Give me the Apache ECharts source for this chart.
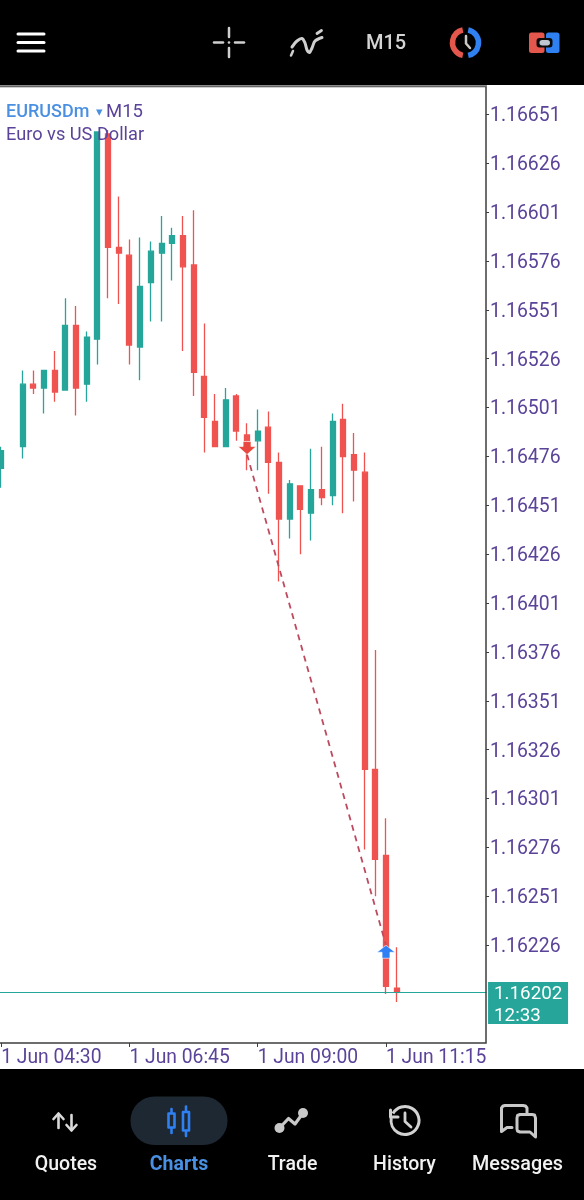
<!DOCTYPE html>
<html>
<head>
<meta charset="utf-8">
<style>html,body{margin:0;padding:0;background:#fff}#chart{width:584px;height:1200px}</style>
<script src="https://cdn.jsdelivr.net/npm/echarts@6/dist/echarts.min.js"></script>
</head>
<body>
<div id="chart"></div>
<script>
// EURUSDm M15 candles: [open, close, low, high]; null marks a bar with no print
const candles = [
  [1.16470,1.16479,1.16460,1.16481], null,
  [1.16481,1.16513,1.16475,1.16520], [1.16513,1.16511,1.16508,1.16520],
  [1.16511,1.16520,1.16498,1.16520], [1.16520,1.16509,1.16504,1.16530],
  [1.16510,1.16543,1.16510,1.16557], [1.16543,1.16511,1.16497,1.16553],
  [1.16513,1.16537,1.16504,1.16540], [1.16536,1.16642,1.16523,1.16642],
  [1.16641,1.16583,1.16557,1.16643], [1.16583,1.16580,1.16554,1.16609],
  [1.16579,1.16533,1.16523,1.16587], [1.16532,1.16563,1.16515,1.16588],
  [1.16565,1.16581,1.16545,1.16586], [1.16580,1.16585,1.16545,1.16599],
  [1.16585,1.16589,1.16566,1.16593], [1.16589,1.16573,1.16530,1.16599],
  [1.16574,1.16519,1.16507,1.16602], [1.16517,1.16496,1.16478,1.16544],
  [1.16494,1.16481,1.16481,1.16508], [1.16481,1.16505,1.16481,1.16511],
  [1.16507,1.16489,1.16484,1.16508], [1.16487,1.16484,1.16469,1.16493],
  [1.16484,1.16489,1.16469,1.16500], [1.16491,1.16473,1.16457,1.16499],
  [1.16473,1.16444,1.16412,1.16478], [1.16444,1.16462,1.16434,1.16464],
  [1.16461,1.16449,1.16426,1.16461], [1.16447,1.16459,1.16433,1.16480],
  [1.16459,1.16455,1.16451,1.16481], [1.16456,1.16494,1.16451,1.16498],
  [1.16495,1.16476,1.16447,1.16503], [1.16477,1.16469,1.16453,1.16488],
  [1.16468,1.16316,1.16275,1.16478], [1.16316,1.16270,1.16251,1.16377],
  [1.16272,1.16205,1.16201,1.16291], [1.16204,1.16202,1.16197,1.16225]
];
const timeLabels = ['1 Jun 04:30', '1 Jun 06:45', '1 Jun 09:00', '1 Jun 11:15'];
const priceTicks = [1.16651,1.16626,1.16601,1.16576,1.16551,1.16526,1.16501,1.16476,1.16451,
  1.16426,1.16401,1.16376,1.16351,1.16326,1.16301,1.16276,1.16251,1.16226];
const lastPrice = 1.16202;
const countdown = '12:33';
const sellEntry = [23, 1.16477];
const buyExit = [36, 1.16226];

const LABEL_STEP = 12;
const BAND_COUNT = 46;
const categories = Array.from({length: BAND_COUNT}, (_, i) =>
  i % LABEL_STEP === 0 ? timeLabels[i / LABEL_STEP] : '');

const UP = '#26A69A', DOWN = '#EF5350', INK = '#5A4399', BLUE = '#4A90E2';
const ICON = '#CFCFCF', BAR = '#000000', FONT = 'Roboto, sans-serif';

const line = (x1, y1, x2, y2, stroke, lineWidth) => ({type: 'line', z: 100,
  shape: {x1, y1, x2, y2}, style: {stroke, lineWidth, lineCap: 'round'}});
const box = (x, y, width, height, r, fill) => ({type: 'rect', z: 100,
  shape: {x, y, width, height, r}, style: {fill}});
const poly = (points, stroke, lineWidth, smooth) => ({type: 'polyline', z: 100,
  shape: {points, smooth: smooth || 0},
  style: {fill: 'none', stroke, lineWidth, lineJoin: 'round', lineCap: 'round'}});
const arc = (cx, cy, r, from, to, stroke, lineWidth) => ({type: 'arc', z: 100,
  shape: {cx, cy, r, startAngle: from * Math.PI / 180, endAngle: to * Math.PI / 180, clockwise: true},
  style: {stroke, lineWidth, fill: 'none'}});
const dot = (cx, cy, r, fill) => ({type: 'circle', z: 100, shape: {cx, cy, r}, style: {fill}});
const text = (x, y, value, fill, font, align) => ({type: 'text', z: 100, x, y,
  style: {text: value, fill, font, textAlign: align || 'left', textVerticalAlign: 'middle'}});

const chrome = [
  // top toolbar
  box(0, 0, 584, 85, 0, BAR),
  box(0, 85, 487, 1.5, 0, '#8C8C8C'),
  line(18, 34, 44, 34, '#FFFFFF', 3),
  line(18, 42.5, 44, 42.5, '#FFFFFF', 3),
  line(18, 51, 44, 51, '#FFFFFF', 3),
  line(229, 28, 229, 37, ICON, 2.5),
  line(229, 48, 229, 57, ICON, 2.5),
  line(214, 42.5, 223, 42.5, ICON, 2.5),
  line(235, 42.5, 244, 42.5, ICON, 2.5),
  dot(229, 42.5, 1.3, ICON),
  poly([[292, 47], [297, 41], [302, 38.5], [305, 43], [307, 50], [309.5, 52.5], [312, 48], [315, 41], [322, 37.5]], ICON, 3, 0.3),
  line(291, 55.5, 293, 51, ICON, 2.5),
  line(317, 33.5, 321.5, 30.5, ICON, 2.8),
  text(386, 44, 'M15', '#D4D4D4', '500 20px ' + FONT, 'center'),
  arc(465.5, 42.7, 13, 102, 258, '#E4574C', 5.5),
  arc(465.5, 42.7, 13, -78, 78, '#2F80F0', 5.5),
  poly([[466, 36], [466, 43.5], [470, 48]], '#C9C9C9', 2.5),
  box(529, 32.5, 15.5, 20.5, 2.5, '#E4574C'),
  box(546, 32.5, 13.5, 20.5, 2.5, '#2F80F0'),
  box(536.5, 38, 16, 9.5, 3, '#0B0B0B'),
  box(539.5, 40, 10.5, 5.5, 2.7, '#BFC8D0'),

  // chart frame and symbol caption
  {type: 'rect', z: 99, shape: {x: -3, y: 86.5, width: 489, height: 956.5},
    style: {fill: 'none', stroke: '#3E3E3E', lineWidth: 1.5}},
  text(6, 112.5, 'EURUSDm', BLUE, '500 18px ' + FONT),
  text(99, 112.5, '▾', BLUE, '13px ' + FONT, 'center'),
  text(106, 112.5, 'M15', INK, '18.5px ' + FONT),
  text(6, 135.5, 'Euro vs US Dollar', INK, '18.2px ' + FONT),

  // bottom navigation
  box(0, 1069, 584, 131, 0, BAR),
  box(130.5, 1096.5, 97, 48.5, 24, '#1E2833'),
  poly([[58.5, 1128], [58.5, 1114]], '#DADADA', 2.6),
  poly([[53.5, 1119], [58.5, 1113.5], [63.5, 1119]], '#DADADA', 2.6),
  poly([[71.5, 1115], [71.5, 1130]], '#DADADA', 2.6),
  poly([[66.5, 1125], [71.5, 1130.5], [76.5, 1125]], '#DADADA', 2.6),
  poly([[171.5, 1109], [171.5, 1113]], '#2F80F0', 2.6),
  poly([[171.5, 1128], [171.5, 1133]], '#2F80F0', 2.6),
  poly([[168.5, 1113.5], [174.5, 1113.5], [174.5, 1127.5], [168.5, 1127.5], [168.5, 1113.5]], '#2F80F0', 2.6),
  poly([[186, 1106.5], [186, 1111.5]], '#2F80F0', 2.6),
  poly([[186, 1131], [186, 1136]], '#2F80F0', 2.6),
  poly([[183, 1112], [189, 1112], [189, 1130.5], [183, 1130.5], [183, 1112]], '#2F80F0', 2.6),
  poly([[279.5, 1128], [288.5, 1118.5], [295, 1124], [303, 1113]], '#C8C8C8', 3.2),
  dot(279.5, 1128, 5, '#C8C8C8'),
  dot(303, 1113, 5, '#C8C8C8'),
  arc(405, 1120.5, 14, -150, 190, '#D2D2D2', 3),
  poly([[390.5, 1110], [390.5, 1117], [398, 1117]], '#D2D2D2', 3),
  poly([[405, 1113], [405, 1121.5], [411, 1127]], '#D2D2D2', 2.8),
  poly([[512, 1127.5], [507, 1127.5], [501.5, 1131.5], [501.5, 1108], [503, 1106], [505, 1105.5], [523, 1105.5], [525.5, 1106], [527, 1108], [527, 1113]], '#C8C8C8', 3),
  poly([[520, 1114.5], [532, 1114.5], [534.5, 1115], [535.5, 1118], [535.5, 1137], [530, 1132], [520, 1132], [517.5, 1131], [517, 1129], [517, 1118], [517.5, 1115.5], [520, 1114.5]], '#C8C8C8', 3),
  text(66, 1165, 'Quotes', '#F2F2F2', '500 19.5px ' + FONT, 'center'),
  text(179, 1165, 'Charts', '#4A90E2', '700 19.5px ' + FONT, 'center'),
  text(292.5, 1165, 'Trade', '#F2F2F2', '500 19.5px ' + FONT, 'center'),
  text(404.5, 1165, 'History', '#F2F2F2', '500 19.5px ' + FONT, 'center'),
  text(517.5, 1165, 'Messages', '#F2F2F2', '500 19.8px ' + FONT, 'center')
];

// Current-price rule across the plot, with its flag (price and bar countdown) in the axis gutter
function renderLastPrice(params, api) {
  const y = Math.floor(api.coord([0, api.value(1)])[1]) + 0.5;
  const area = params.coordSys;
  const right = area.x + area.width;
  return {
    type: 'group',
    children: [
      {type: 'line', shape: {x1: area.x, y1: y, x2: right - 1, y2: y},
        style: {stroke: UP, lineWidth: 1}},
      {type: 'rect', shape: {x: right + 0.5, y: y - 10.5, width: 80, height: 42},
        style: {fill: UP}},
      {type: 'text', x: right + 6.5, y: y + 2,
        style: {text: lastPrice.toFixed(5), fill: '#FFFFFF', font: '18.8px Roboto', textVerticalAlign: 'middle'}},
      {type: 'text', x: right + 6.5, y: y + 23.5,
        style: {text: countdown, fill: '#FFFFFF', font: '18.8px Roboto', textVerticalAlign: 'middle'}}
    ]
  };
}

const chart = echarts.init(document.getElementById('chart'), null, {renderer: 'canvas'});
chart.setOption({
  animation: false,
  backgroundColor: '#FFFFFF',
  grid: {left: -4.15, top: 87, width: 491.7, height: 956, containLabel: false, outerBoundsMode: 'none'},
  xAxis: {
    type: 'category',
    data: categories,
    boundaryGap: true,
    axisLine: {show: false},
    axisTick: {show: true, alignWithLabel: true, length: 4, lineStyle: {color: '#3E3E3E'},
      interval: i => i % LABEL_STEP === 0},
    axisLabel: {
      interval: i => i % LABEL_STEP === 0,
      align: 'left', margin: 6,
      color: INK, fontFamily: 'Roboto', fontSize: 19.3, hideOverlap: false
    },
    splitLine: {show: false}
  },
  yAxis: {
    type: 'value',
    position: 'right',
    offset: -1.5,
    min: 1.16176,
    max: 1.16665,
    axisLine: {show: false},
    axisTick: {show: true, length: 3, customValues: priceTicks, lineStyle: {color: '#3E3E3E'}},
    axisLabel: {
      customValues: priceTicks, margin: 4,
      formatter: v => '{price|' + v.toFixed(5) + '}',
      rich: {price: {color: INK, fontFamily: 'Roboto', fontSize: 19.4, padding: [4, 0, 0, 0]}}
    },
    splitLine: {show: false}
  },
  series: [
    {
      type: 'candlestick',
      data: candles.map(c => c || ['-', '-', '-', '-']),
      barWidth: 5.5,
      itemStyle: {color: UP, color0: DOWN, borderColor: UP, borderColor0: DOWN, borderWidth: 1.3}
    },
    {
      type: 'line',
      data: [sellEntry, buyExit],
      showSymbol: false,
      z: 4,
      lineStyle: {color: '#BE4A5E', width: 1.8, type: [6, 5]}
    },
    {
      type: 'scatter',
      data: [sellEntry],
      symbol: 'path://M4.5 0H11.5V5H16L8 13L0 5H4.5Z',
      symbolSize: [18, 13],
      symbolOffset: [0, -6.5],
      z: 5,
      itemStyle: {color: '#E8483F', borderColor: '#FFFFFF', borderWidth: 0.6, opacity: 1}
    },
    {
      type: 'scatter',
      data: [buyExit],
      symbol: 'path://M8 0L16 7H11.5V13H4.5V7H0Z',
      symbolSize: [18, 13],
      symbolOffset: [0, 6.5],
      z: 5,
      itemStyle: {color: '#2F80F5', borderColor: '#FFFFFF', borderWidth: 0.6, opacity: 1}
    },
    {
      type: 'custom',
      data: [[0, lastPrice]],
      encode: {x: 0, y: 1},
      clip: false,
      z: 6,
      renderItem: renderLastPrice
    }
  ],
  graphic: {elements: chrome}
});
</script>
</body>
</html>
